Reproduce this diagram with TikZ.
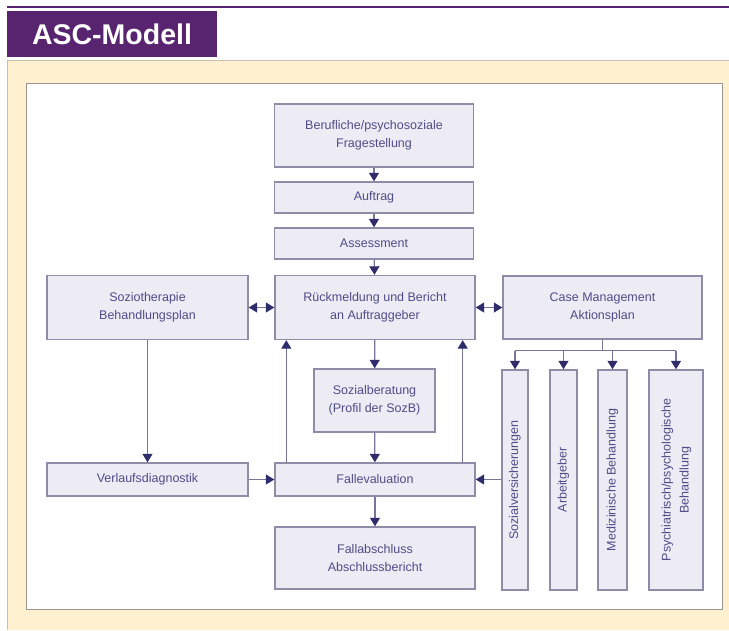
\documentclass[tikz,border=0pt]{standalone}
\usepackage{fontspec}
\setmainfont{Liberation Sans}
\usetikzlibrary{arrows.meta,positioning}

\definecolor{ascpurple}{HTML}{58236F}
\definecolor{cream}{HTML}{FFF1CF}
\definecolor{creamedge}{HTML}{C9C0AF}
\definecolor{framegray}{HTML}{9A968E}
\definecolor{boxfill}{HTML}{EDEBF4}
\definecolor{boxline}{HTML}{8F8CA8}
\definecolor{linkcol}{HTML}{77759A}
\definecolor{tipcol}{HTML}{2E2C6A}
\definecolor{boxtext}{HTML}{4F4D88}

\tikzset{
  box/.style={draw=boxline, fill=boxfill, line width=1.4pt, inner sep=0pt,
    align=center, text=boxtext, font=\fontsize{12.5}{18}\selectfont},
  tip/.tip={Triangle[length=8.5pt,width=10pt,color=tipcol]},
  plain/.style={draw=linkcol, line width=1.2pt},
  link/.style={plain, -tip},
  both/.style={plain, tip-tip}
}

\begin{document}
\begin{tikzpicture}[x=1pt,y=-1pt]
  \useasboundingbox (0,0) rectangle (729,630);
  \fill[white] (0,0) rectangle (729,630);
% Title
  \draw[ascpurple, line width=1.5pt] (7,7) -- (729,7);
  \node[fill=ascpurple, minimum width=210pt, minimum height=46pt, inner sep=0pt,
    text=white, font=\bfseries\fontsize{28.5}{30}\selectfont] (title) at (112,34) {ASC-Modell};
% Panel
  \fill[cream] (7,60) rectangle (729,630);
  \draw[creamedge, line width=1pt] (729,60) -- (7,60) -- (7,630);
  \draw[framegray, fill=white, line width=1pt] (26,83) rectangle (722,609);
% Middle column
  \node[box, minimum width=199pt, minimum height=63pt] (frage) at (374,135.5) {Berufliche/psychosoziale\\Fragestellung};
  \node[box, minimum width=199pt, minimum height=31pt] (auftrag) at (374,197.5) {Auftrag};
  \node[box, minimum width=199pt, minimum height=31pt] (assess) at (374,243.5) {Assessment};
  \node[box, minimum width=200pt, minimum height=64pt] (rueck) at (375,307.5) {Rückmeldung und Bericht\\an Auftraggeber};
  \node[box, minimum width=121pt, minimum height=63pt] (sozber) at (374.5,400.5) {Sozialberatung\\(Profil der SozB)};
  \node[box, minimum width=200pt, minimum height=33pt] (falleval) at (375,479.5) {Fallevaluation};
  \node[box, minimum width=200pt, minimum height=62pt] (fallab) at (375,558) {Fallabschluss\\Abschlussbericht};
% Left column
  \node[box, minimum width=201pt, minimum height=64pt] (sozio) at (147.5,307.5) {Soziotherapie\\Behandlungsplan};
  \node[box, minimum width=201pt, minimum height=33pt] (verlauf) at (147.5,479.5) {Verlaufsdiagnostik};
% Right column
  \node[box, minimum width=199pt, minimum height=63pt] (case) at (602.5,307.5) {Case Management\\Aktionsplan};
  \node[box, minimum width=26pt, minimum height=220pt] (sv) at (515,480) {\rotatebox{90}{Sozialversicherungen}};
  \node[box, minimum width=27pt, minimum height=220pt] (ag) at (563.5,480) {\rotatebox{90}{Arbeitgeber}};
  \node[box, minimum width=29pt, minimum height=220pt] (med) at (612.5,480) {\rotatebox{90}{Medizinische Behandlung}};
  \node[box, minimum width=54pt, minimum height=220pt] (psy) at (676,480)
    {\rotatebox{90}{\begin{tabular}{@{}c@{}}Psychiatrisch/psychologische\\Behandlung\end{tabular}}};
% Arrows
  \draw[link] (frage) -- (auftrag);
  \draw[link] (auftrag) -- (assess);
  \draw[link] (assess) -- (rueck);
  \draw[link] (rueck) -- (sozber);
  \draw[link] (sozber) -- (falleval);
  \draw[link] (falleval) -- (fallab);
  \draw[both] (sozio) -- (rueck);
  \draw[both] (rueck) -- (case);
  \draw[link] (sozio) -- (verlauf);
  \draw[link] (verlauf) -- (falleval);
  \draw[link] ([xshift=12pt]falleval.north west) -- ([xshift=12pt]rueck.south west);
  \draw[link] ([xshift=-13pt]falleval.north east) -- ([xshift=-13pt]rueck.south east);
  \draw[link] (sv.west |- falleval) -- (falleval.east);
% Fork
  \draw[plain] (case.south) -- ++(0,11) coordinate (fork);
  \draw[plain] (sv.north |- fork) -- (psy.north |- fork);
  \foreach \n in {sv,ag,med,psy}
    \draw[link] (\n.north |- fork) -- (\n.north);
\end{tikzpicture}
\end{document}
